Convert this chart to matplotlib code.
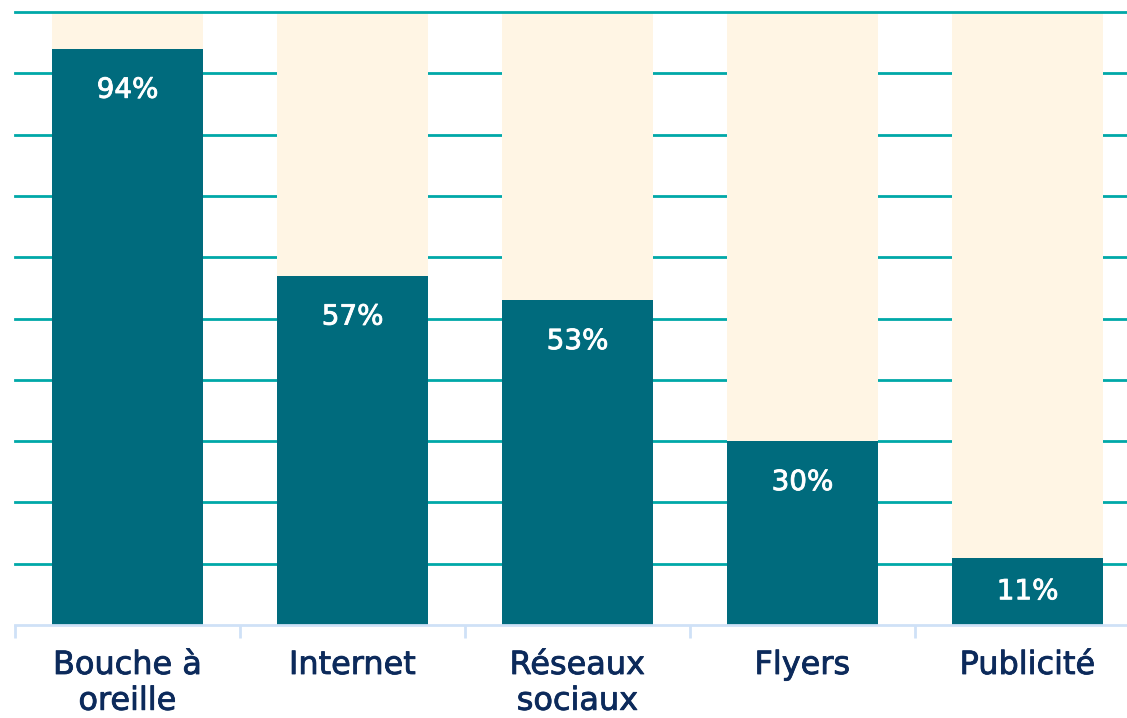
import matplotlib
matplotlib.use("Agg")
import matplotlib.pyplot as plt
import matplotlib.patheffects as pe

categories = ["Bouche à\noreille", "Internet", "Réseaux\nsociaux", "Flyers", "Publicité"]
values = [94, 57, 53, 30, 11]
value_labels = ["94%", "57%", "53%", "30%", "11%"]
total = 100
gridlines = [0, 10, 20, 30, 40, 50, 60, 70, 80, 90, 100]

BAR = "#006b7d"
BG = "#fff5e4"
GRID = "#00a8a8"
AXIS = "#cfe1f7"
LABEL = "#0c2a5b"
FONT = ["DejaVu Sans"]

W, H = 1127, 718
fig = plt.figure(figsize=(W / 100, H / 100), dpi=100)
ax = fig.add_axes([15 / W, (H - 625) / H, 1125 / W, 613 / H])

x = list(range(len(categories)))
ax.set_xlim(-0.5, len(categories) - 0.5)
ax.set_ylim(0, total)

for g in gridlines[1:-1]:
    ax.axhline(g, color=GRID, lw=2, zorder=1, clip_on=False)
ax.axhline(gridlines[-1], color=GRID, lw=2, zorder=6, clip_on=False)

ax.bar(x, [total] * len(x), width=0.667, color=BG, zorder=2)
ax.bar(x, values, width=0.667, color=BAR, zorder=3)

off = 41 * total / 613
for xi, v, lab in zip(x, values, value_labels):
    y = max(v - off, v / 2)
    ax.text(xi, y, lab, ha="center", va="center", color="white",
            fontsize=20, family=FONT, zorder=4,
            path_effects=[pe.withStroke(linewidth=0.6, foreground="white")])

for s in ["top", "right", "left"]:
    ax.spines[s].set_visible(False)
ax.spines["bottom"].set_color(AXIS)
ax.spines["bottom"].set_linewidth(2)
ax.spines["bottom"].set_zorder(5)
ax.set_yticks([])
ax.set_xticks(x)
ax.set_xticklabels(categories, fontsize=23, color=LABEL, family=FONT,
                   linespacing=1.2)
for t in ax.get_xticklabels():
    t.set_path_effects([pe.withStroke(linewidth=0.6, foreground=LABEL)])
ax.tick_params(axis="x", which="major", length=0, pad=18)
ax.set_xticks([i - 0.5 for i in range(len(categories) + 1)], minor=True)
ax.tick_params(axis="x", which="minor", length=9, width=2, color=AXIS)

fig.savefig("out.png", dpi=100)
